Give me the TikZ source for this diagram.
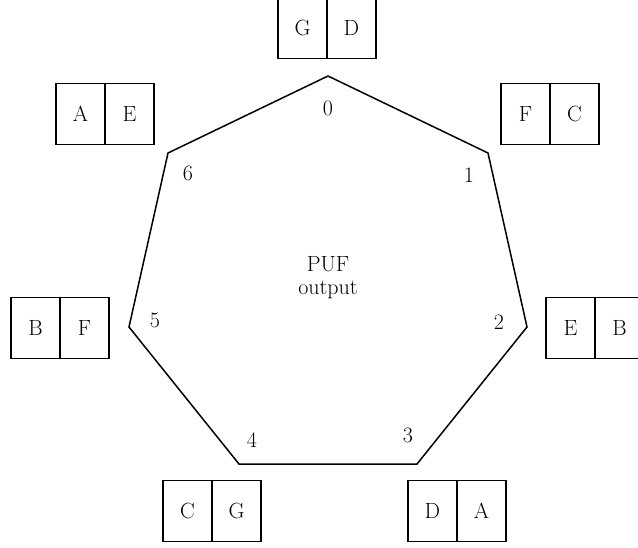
\documentclass[tikz,border=0pt]{standalone}
\begin{document}
\begin{tikzpicture}[x=1pt,y=-1pt,
  every node/.style={font=\fontsize{22}{26}\selectfont},
  cell/.style={draw,line width=1.5pt,minimum width=49pt,minimum height=61pt,inner sep=0pt},
  ring/.style={line width=1.5pt,line join=miter},
  vlabel/.style={inner sep=0pt}]
\useasboundingbox (0,0) rectangle (638,547);
% vertices of the heptagon
\coordinate (v0) at (328,76);
\coordinate (v1) at (488,153);
\coordinate (v2) at (527,327);
\coordinate (v3) at (417,464);
\coordinate (v4) at (239,464);
\coordinate (v5) at (129,327);
\coordinate (v6) at (168,153);
\draw[ring] (v0) -- (v1) -- (v2) -- (v3) -- (v4) -- (v5) -- (v6) -- cycle;
% vertex indices
\node[vlabel] (l0) at (328,108) {0};
\node[vlabel] (l1) at (469,175) {1};
\node[vlabel] (l2) at (499,322) {2};
\node[vlabel] (l3) at (408,435) {3};
\node[vlabel] (l4) at (252,440) {4};
\node[vlabel] (l5) at (155,320) {5};
\node[vlabel] (l6) at (188,173) {6};
% centre text
\node[align=center] (puf) at (328,278) {PUF\\[-3pt]output};
% pairs of cells
\node[cell] (b0a) at (302.5,28) {G};
\node[cell] (b0b) at (351.5,28) {D};
\node[cell] (b1a) at (525.5,114) {F};
\node[cell] (b1b) at (574.5,114) {C};
\node[cell] (b2a) at (570.5,328) {E};
\node[cell] (b2b) at (619.5,328) {B};
\node[cell] (b3a) at (432.5,511) {D};
\node[cell] (b3b) at (481.5,511) {A};
\node[cell] (b4a) at (187.5,511) {C};
\node[cell] (b4b) at (236.5,511) {G};
\node[cell] (b5a) at (35.5,328) {B};
\node[cell] (b5b) at (84.5,328) {F};
\node[cell] (b6a) at (80.5,114) {A};
\node[cell] (b6b) at (129.5,114) {E};
\end{tikzpicture}
\end{document}
